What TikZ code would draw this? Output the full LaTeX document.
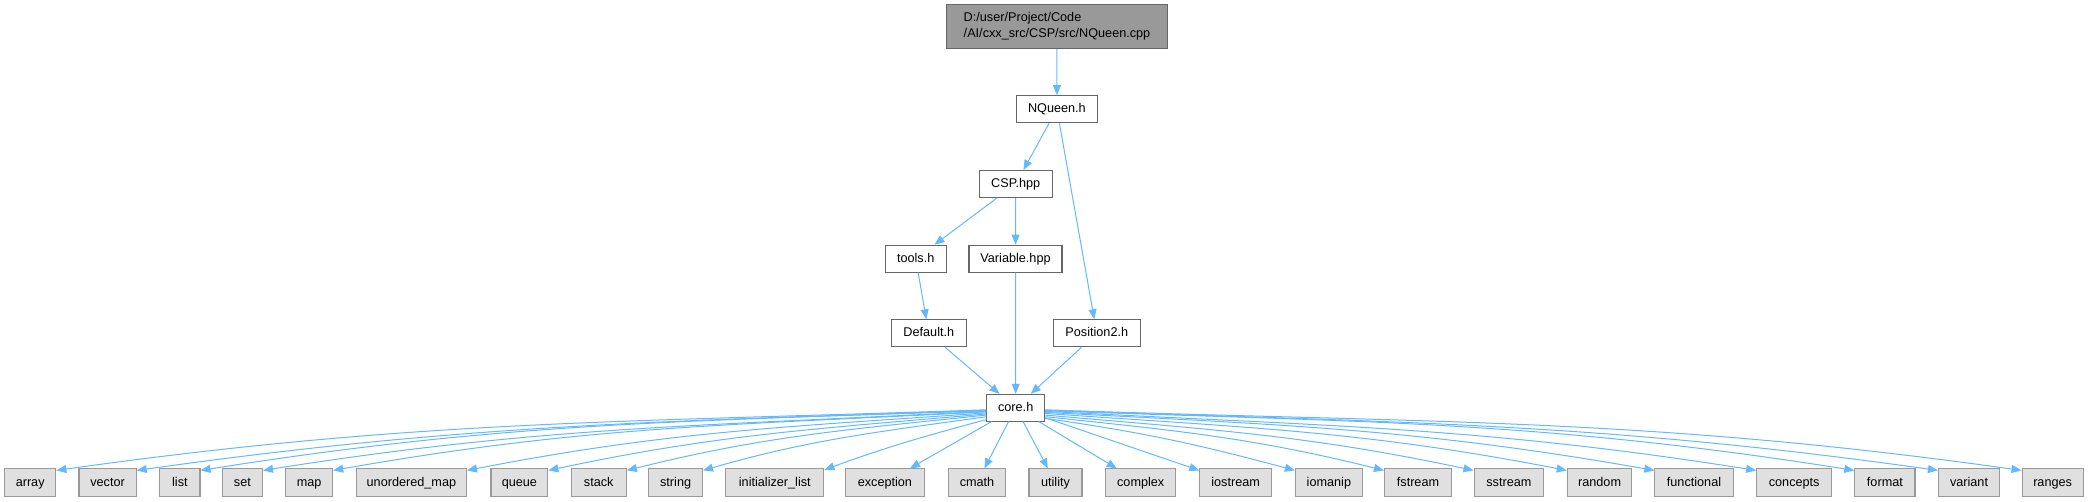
\documentclass[tikz,border=0pt]{standalone}
\usepackage{fontspec}
\setmainfont{Liberation Sans}
\usetikzlibrary{arrows.meta}
\definecolor{edgec}{HTML}{63B8FF}
\definecolor{bord}{HTML}{666666}
\definecolor{topfill}{HTML}{999999}
\definecolor{sysfill}{HTML}{E0E0E0}
\definecolor{sysbord}{HTML}{999999}
\begin{document}
\begin{tikzpicture}[x=0.75pt,y=-0.75pt,
  font=\fontsize{9.5}{12}\selectfont,
  nbox/.style={draw=bord, fill=white, line width=0.8pt, inner sep=0pt, text height=7pt, text depth=2pt, minimum height=20.25pt},
  sbox/.style={draw=sysbord, fill=sysfill, line width=0.8pt, inner sep=0pt, text height=7pt, text depth=2pt, minimum height=20.8pt},
  tbox/.style={draw=bord, fill=topfill, line width=0.8pt, inner sep=0pt, minimum height=32.7pt, minimum width=165.5pt, align=left},
  edge/.style={draw=edgec, line width=0.75pt, -{Triangle[length=7.5pt,width=6pt]}, fill=none}]
\useasboundingbox (0,0) rectangle (2089,501);
% upper nodes
\node[tbox] (top) at (1057,26.5) {D:/user/Project/Code\\/AI/cxx\_src/CSP/src/NQueen.cpp};
\node[nbox, minimum width=61.3pt] (nq) at (1056.9,109.2) {NQueen.h};
\node[nbox, minimum width=54.5pt] (csp) at (1015.7,184) {CSP.hpp};
\node[nbox, minimum width=46pt] (tools) at (915.7,258.7) {tools.h};
\node[nbox, minimum width=69.75pt] (var) at (1015.5,258.7) {Variable.hpp};
\node[nbox, minimum width=56.25pt] (def) at (928.8,333.3) {Default.h};
\node[nbox, minimum width=65.25pt] (pos) at (1096.8,333.3) {Position2.h};
\node[nbox, minimum width=43.5pt, minimum height=20pt] (core) at (1015.7,407.7) {core.h};
% bottom nodes
\node[sbox, minimum width=38.5pt] (array) at (30.2,482.8) {array};
\node[sbox, minimum width=42.9pt] (vector) at (107.6,482.8) {vector};
\node[sbox, minimum width=30.15pt] (list) at (179.9,482.8) {list};
\node[sbox, minimum width=30.15pt] (set) at (242.4,482.8) {set};
\node[sbox, minimum width=35.2pt] (map) at (309.2,482.8) {map};
\node[sbox, minimum width=82.65pt] (umap) at (411.4,482.8) {unordered\_map};
\node[sbox, minimum width=42.6pt] (queue) at (519.4,482.8) {queue};
\node[sbox, minimum width=41.5pt] (stack) at (598.7,482.8) {stack};
\node[sbox, minimum width=40.35pt] (string) at (675.6,482.8) {string};
\node[sbox, minimum width=73.65pt] (init) at (774.8,482.8) {initializer\_list};
\node[sbox, minimum width=59.25pt] (exc) at (884.9,482.8) {exception};
\node[sbox, minimum width=43.05pt] (cmath) at (977,482.8) {cmath};
\node[sbox, minimum width=39.75pt] (util) at (1055.5,482.8) {utility};
\node[sbox, minimum width=52.5pt] (complex) at (1140.7,482.8) {complex};
\node[sbox, minimum width=53.6pt] (iostream) at (1235.6,482.8) {iostream};
\node[sbox, minimum width=50.2pt] (iomanip) at (1328.9,482.8) {iomanip};
\node[sbox, minimum width=50.2pt] (fstream) at (1418,482.8) {fstream};
\node[sbox, minimum width=52.3pt] (sstream) at (1508.9,482.8) {sstream};
\node[sbox, minimum width=48.5pt] (random) at (1599.6,482.8) {random};
\node[sbox, minimum width=58.65pt] (func) at (1694,482.8) {functional};
\node[sbox, minimum width=56.3pt] (concepts) at (1794.2,482.8) {concepts};
\node[sbox, minimum width=45.1pt] (format) at (1884.9,482.8) {format};
\node[sbox, minimum width=45.8pt] (variant) at (1969,482.8) {variant};
\node[sbox, minimum width=45.8pt] (ranges) at (2052.6,482.8) {ranges};
% upper edges
\draw[edge] (top) -- (nq);
\draw[edge] (nq) -- (csp);
\draw[edge] (nq) -- (pos);
\draw[edge] (csp) -- (tools);
\draw[edge] (csp) -- (var);
\draw[edge] (tools) -- (def);
\draw[edge] (var) -- (core);
\draw[edge] (def) -- (core);
\draw[edge] (pos) -- (core);
% lower edges, left
\draw[edge] (core.184) to[out=182,in=8] ([yshift=-1.5pt]array.north east);
\draw[edge] (core.185) to[out=182,in=8] ([yshift=-1.5pt]vector.north east);
\draw[edge] (core.186) to[out=182,in=9] ([yshift=-1.5pt]list.north east);
\draw[edge] (core.187) to[out=183,in=9] ([yshift=-1.5pt]set.north east);
\draw[edge] (core.188) to[out=183,in=10] ([yshift=-1.5pt]map.north east);
\draw[edge] (core.190) to[out=184,in=11] ([yshift=-1.5pt]umap.north east);
\draw[edge] (core.192) to[out=185,in=12] ([yshift=-1.5pt]queue.north east);
\draw[edge] (core.194) to[out=186,in=14] ([yshift=-1.5pt]stack.north east);
\draw[edge] (core.197) to[out=188,in=16] ([yshift=-1.5pt]string.north east);
\draw[edge] (core.202) to[out=195,in=20] ([yshift=-1pt]init.north east);
\draw[edge] (core) -- (exc);
\draw[edge] (core) -- (cmath);
\draw[edge] (core) -- (util);
\draw[edge] (core) -- (complex);
% lower edges, right
\draw[edge] (core) -- (iostream);
\draw[edge] (core.340) to[out=352,in=165] ([yshift=-1.5pt]iomanip.north west);
\draw[edge] (core.343) to[out=354,in=166] ([yshift=-1.5pt]fstream.north west);
\draw[edge] (core.346) to[out=355,in=168] ([yshift=-1.5pt]sstream.north west);
\draw[edge] (core.349) to[out=356,in=169] ([yshift=-1.5pt]random.north west);
\draw[edge] (core.351) to[out=357,in=170] ([yshift=-1.5pt]func.north west);
\draw[edge] (core.353) to[out=357,in=171] ([yshift=-1.5pt]concepts.north west);
\draw[edge] (core.354) to[out=358,in=171] ([yshift=-1.5pt]format.north west);
\draw[edge] (core.355) to[out=358,in=172] ([yshift=-1.5pt]variant.north west);
\draw[edge] (core.356) to[out=358,in=172] ([yshift=-1.5pt]ranges.north west);
\end{tikzpicture}
\end{document}
